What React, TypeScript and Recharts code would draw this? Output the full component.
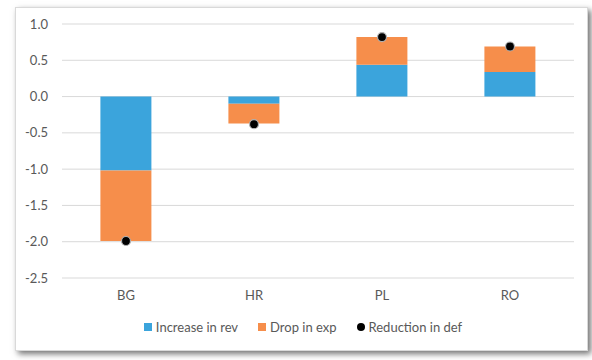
import { ComposedChart, Bar, Scatter, XAxis, YAxis, CartesianGrid, Legend } from 'recharts'

// contribution à la réduction du déficit, par pays
const countries = ['BG', 'HR', 'PL', 'RO']
const revIncrease = [-1.02, -0.1, 0.44, 0.34]
const expDrop = [-0.97, -0.27, 0.38, 0.35]
const defReduction = [-1.99, -0.38, 0.82, 0.69]
const yTicks = [-2.5, -2.0, -1.5, -1.0, -0.5, 0.0, 0.5, 1.0]

const seriesNames = ['Increase in rev', 'Drop in exp', 'Reduction in def']
const REV = '#3BA4DC'
const EXP = '#F68E4B'

const data = countries.map((c, i) => ({
  country: c,
  rev: revIncrease[i],
  exp: expDrop[i],
  def: defReduction[i],
}))

const TEXT = '#595959'

const Dot = (props: any) => {
  const { cx, cy } = props
  if (cx == null || cy == null) return null
  return <circle cx={cx} cy={cy} r={4.5} fill="#000" stroke="#b0b0b0" strokeWidth={1.2} />
}

// légende dans l'ordre des séries (recharts trie par défaut)
const LegendBox = () => (
  <div style={{ display: 'flex', justifyContent: 'center', gap: 20, fontSize: 13, color: TEXT }}>
    {seriesNames.map((n, i) => (
      <div key={n} style={{ display: 'flex', alignItems: 'center', gap: 4 }}>
        <svg width={8} height={8}>
          {i < 2 ? (
            <rect width={8} height={8} fill={i === 0 ? REV : EXP} />
          ) : (
            <circle cx={4} cy={4} r={4} fill="#000" />
          )}
        </svg>
        <span>{n}</span>
      </div>
    ))}
  </div>
)

export default function App() {
  return (
    <div
      style={{
        position: 'absolute',
        left: 15,
        top: 7,
        width: 573,
        height: 344,
        background: '#fff',
        border: '1px solid #d9d9d9',
        boxShadow: '3px 3px 6px rgba(0,0,0,0.55)',
        boxSizing: 'border-box',
        fontFamily: 'Lato, "Open Sans", sans-serif',
      }}
    >
      <ComposedChart
        width={571}
        height={342}
        data={data}
        stackOffset="sign"
        barCategoryGap="30%"
        margin={{ top: 16, right: 13, left: 16, bottom: 15 }}
      >
        <CartesianGrid vertical={false} stroke="#d9d9d9" />
        <XAxis
          dataKey="country"
          axisLine={false}
          tickLine={false}
          tick={{ fontSize: 13, fill: TEXT }}
          tickMargin={7}
          height={41}
        />
        <YAxis
          domain={[-2.5, 1]}
          ticks={yTicks}
          tickFormatter={(v: number) => v.toFixed(1)}
          axisLine={false}
          tickLine={false}
          tick={{ fontSize: 13, fill: TEXT }}
          tickMargin={8}
          width={30}
          interval={0}
        />
        <Legend verticalAlign="bottom" content={<LegendBox />} />
        <Bar dataKey="rev" name={seriesNames[0]} stackId="a" fill={REV} isAnimationActive={false} />
        <Bar dataKey="exp" name={seriesNames[1]} stackId="a" fill={EXP} isAnimationActive={false} />
        <Scatter dataKey="def" name={seriesNames[2]} fill="#000" shape={<Dot />} isAnimationActive={false} />
      </ComposedChart>
    </div>
  )
}
